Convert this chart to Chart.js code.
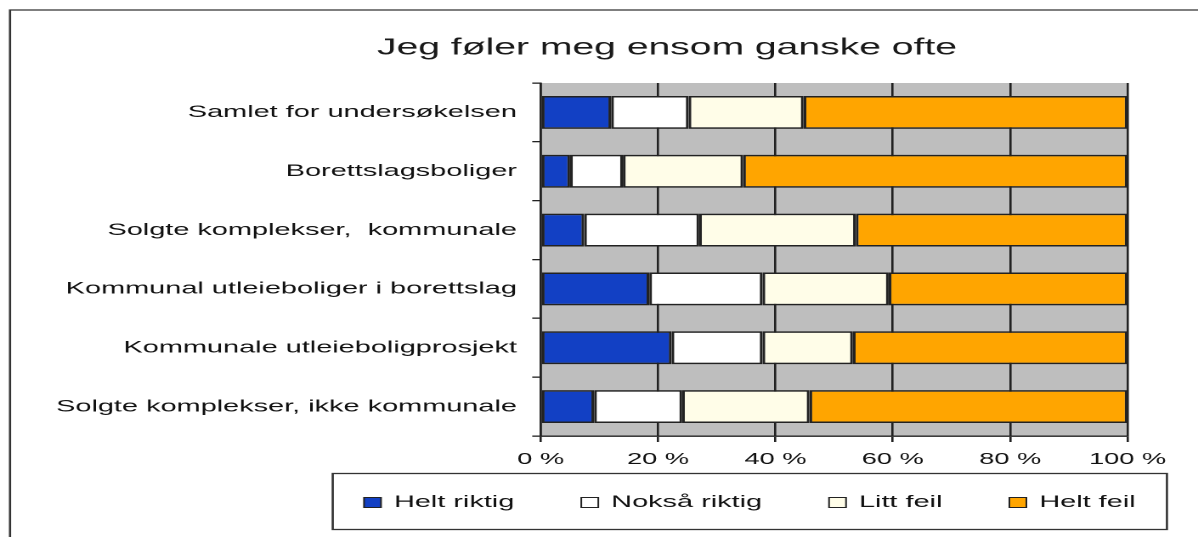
<!DOCTYPE html>
<html>
<head>
<meta charset="utf-8">
<title>Jeg føler meg ensom ganske ofte</title>
<script src="https://cdn.jsdelivr.net/npm/chart.js@4.4.0/dist/chart.umd.min.js"></script>
<style>
  html, body { margin: 0; padding: 0; background: #fff; overflow: hidden; }
  /* the original is a scan that is stretched sideways, so the chart is drawn narrow and widened */
  #chart { position: absolute; left: 0; top: 0; transform: scaleX(1.6993); transform-origin: 0 0; }
</style>
</head>
<body>
<canvas id="chart" width="705" height="537"></canvas>
<script>
// ---- data (percent of answers) ----
const categories = [
  "Samlet for undersøkelsen",
  "Borettslagsboliger",
  "Solgte komplekser,  kommunale",
  "Kommunal utleieboliger i borettslag",
  "Kommunale utleieboligprosjekt",
  "Solgte komplekser, ikke kommunale"
];
const heltRiktig  = [12.0, 5.0, 7.4, 18.5, 22.3, 9.1];
const noksaRiktig = [13.2, 9.0, 19.6, 19.3, 15.5, 15.0];
const littFeil    = [19.6, 20.5, 26.7, 21.5, 15.4, 21.7];
const heltFeil    = [55.2, 65.5, 46.3, 40.7, 46.8, 54.2];
const xTicks = [0, 20, 40, 60, 80, 100];

const titleText = "Jeg føler meg ensom ganske ofte";
const FONT = "'Liberation Sans', Arial, sans-serif";
const LINE = "#222";

Chart.defaults.font.family = FONT;
Chart.defaults.color = "#111";

// white page, frame and grey plot area
const backdrop = {
  id: "backdrop",
  beforeDraw(chart) {
    const { ctx, chartArea: a } = chart;
    ctx.save();
    ctx.fillStyle = "#fff";
    ctx.fillRect(0, 0, chart.width, chart.height);
    ctx.strokeStyle = "#333";
    ctx.lineWidth = 1.3;
    ctx.beginPath();
    ctx.moveTo(5.9, chart.height + 5);
    ctx.lineTo(5.9, 10);
    ctx.lineTo(chart.width + 5, 10);
    ctx.stroke();
    ctx.fillStyle = "#bebebe";
    ctx.fillRect(a.left, a.top, a.right - a.left, a.bottom - a.top);
    ctx.restore();
  }
};

// title and the boxed legend below the axis
const titleAndLegend = {
  id: "titleAndLegend",
  afterDraw(chart) {
    const ctx = chart.ctx;
    ctx.save();
    ctx.fillStyle = "#1a1a1a";
    ctx.font = "23px " + FONT;
    ctx.textAlign = "center";
    ctx.textBaseline = "middle";
    ctx.fillText(titleText, 392.5, 48);

    // legend frame
    const bx = 195.8, by = 473.5, bw = 490.9, bh = 56;
    ctx.strokeStyle = "#333";
    ctx.lineWidth = 1.3;
    ctx.strokeRect(bx, by, bw, bh);

    ctx.font = "17px " + FONT;
    ctx.textAlign = "left";
    const sq = 10, sqH = 10, toText = 17.6, gap = 39.4;
    const sets = chart.data.datasets;
    const widths = sets.map(d => ctx.measureText(d.label).width);
    const total = widths.reduce((s, w) => s + w + toText, 0) + gap * (sets.length - 1);
    let x = bx + (bw - total) / 2;
    const cy = by + bh / 2 + 1;
    sets.forEach((d, i) => {
      ctx.fillStyle = d.backgroundColor;
      ctx.fillRect(x, cy - sqH / 2, sq, sqH);
      ctx.lineWidth = 1;
      ctx.strokeStyle = "#222";
      ctx.strokeRect(x, cy - sqH / 2, sq, sqH);
      ctx.fillStyle = "#111";
      ctx.fillText(d.label, x + toText, cy);
      x += toText + widths[i] + gap;
    });
    ctx.restore();
  }
};

const barStyle = { borderColor: LINE, borderWidth: 1.6, borderSkipped: false, barPercentage: 0.56, categoryPercentage: 1 };

new Chart(document.getElementById("chart"), {
  type: "bar",
  data: {
    labels: categories,
    datasets: [
      { label: "Helt riktig",  data: heltRiktig,  backgroundColor: "#1240c4", ...barStyle },
      { label: "Nokså riktig", data: noksaRiktig, backgroundColor: "#ffffff", ...barStyle },
      { label: "Litt feil",    data: littFeil,    backgroundColor: "#fffde8", ...barStyle },
      { label: "Helt feil",    data: heltFeil,    backgroundColor: "#ffa500", ...barStyle }
    ]
  },
  options: {
    indexAxis: "y",
    responsive: false,
    devicePixelRatio: 2,
    animation: false,
    layout: { padding: { left: 10, right: 41.5, top: 83, bottom: 61 } },
    plugins: {
      legend: { display: false },
      title: { display: false },
      tooltip: { enabled: false }
    },
    scales: {
      x: {
        stacked: true,
        min: 0,
        max: 100,
        afterBuildTicks: s => { s.ticks = xTicks.map(v => ({ value: v })); },
        afterFit: s => { s.height = 40; },
        ticks: { callback: v => v + " %", font: { size: 16 }, color: "#111", padding: 8, maxRotation: 0 },
        grid: { color: LINE, lineWidth: 1.3, tickLength: 6, tickColor: LINE },
        border: { display: true, color: LINE, width: 1.4 }
      },
      y: {
        stacked: true,
        afterFit: s => { s.width = 308.2; },
        ticks: { font: { size: 17 }, color: "#111", padding: 9 },
        grid: { drawOnChartArea: false, tickLength: 5, tickColor: LINE, lineWidth: 1.3 },
        border: { display: true, color: LINE, width: 1.3 }
      }
    }
  },
  plugins: [backdrop, titleAndLegend]
});
</script>
</body>
</html>
